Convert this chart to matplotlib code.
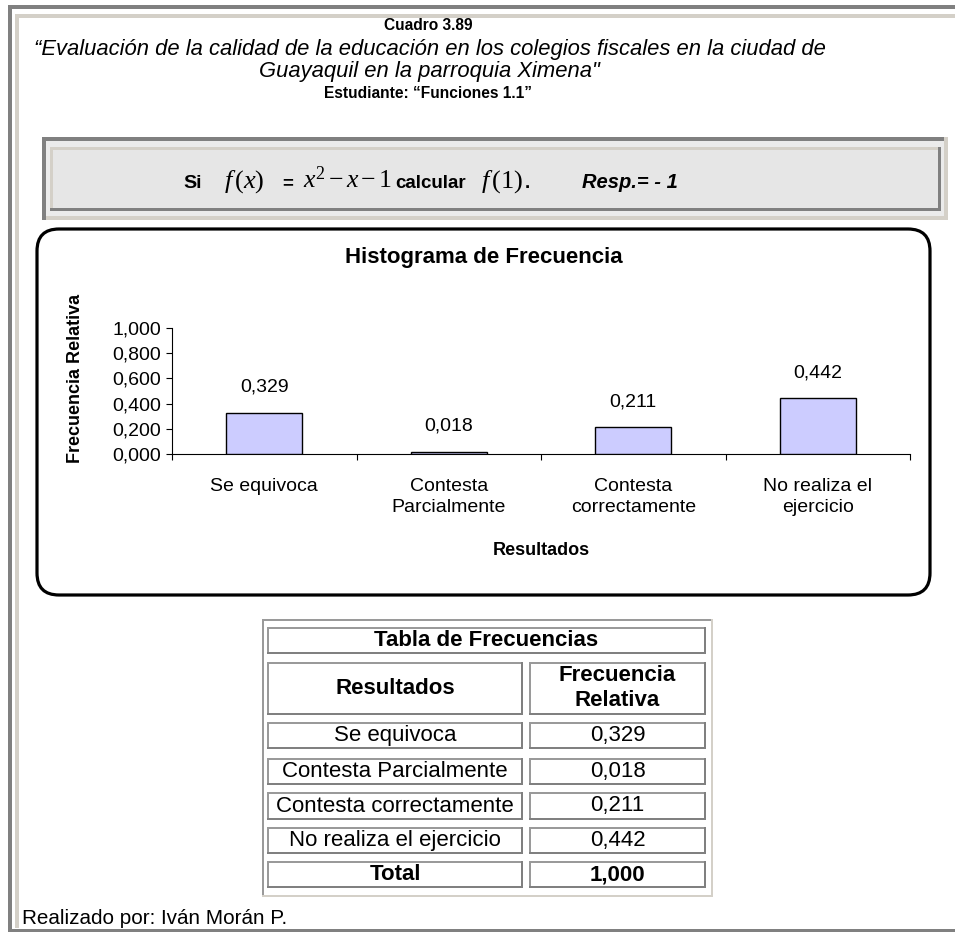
import matplotlib
matplotlib.use("Agg")
import matplotlib.pyplot as plt
from matplotlib import font_manager
from matplotlib.patches import Rectangle, FancyBboxPatch

# ---------------- data ----------------
categories = ["Se equivoca", "Contesta\nParcialmente", "Contesta\ncorrectamente", "No realiza el\nejercicio"]
table_labels = ["Se equivoca", "Contesta Parcialmente", "Contesta correctamente", "No realiza el ejercicio"]
values = [0.329, 0.018, 0.211, 0.442]
value_labels = ["0,329", "0,018", "0,211", "0,442"]
yticks = [0.0, 0.2, 0.4, 0.6, 0.8, 1.0]
ytick_labels = ["0,000", "0,200", "0,400", "0,600", "0,800", "1,000"]
total_label = "1,000"

plt.rcParams['font.family'] = ['Liberation Sans', 'DejaVu Sans']
plt.rcParams['mathtext.fontset'] = 'custom'
plt.rcParams['mathtext.rm'] = 'Liberation Serif'
plt.rcParams['mathtext.it'] = 'Liberation Serif:italic'
plt.rcParams['mathtext.bf'] = 'Liberation Serif:bold'

_names = {f.name for f in font_manager.fontManager.ttflist}
if 'Liberation Sans Narrow' in _names:
    HEAD_FAM = ['Liberation Sans Narrow', 'Liberation Sans', 'DejaVu Sans']
    HEAD_FS = 13.2
else:
    HEAD_FAM = ['Liberation Sans', 'DejaVu Sans']
    HEAD_FS = 11.2

W, H = 955, 932
fig = plt.figure(figsize=(W / 100, H / 100), dpi=100)
fig.patch.set_facecolor('white')

bg = fig.add_axes([0, 0, 1, 1])
bg.set_xlim(0, W)
bg.set_ylim(H, 0)
bg.axis('off')

DARK = '#808080'
BEIGE = '#d4d0c8'
LIGHT = '#e6e6e6'


def rect(x0, y0, x1, y1, color, z=1):
    bg.add_patch(Rectangle((x0, y0), x1 - x0, y1 - y0, facecolor=color,
                           edgecolor='none', zorder=z))


# page frame
rect(8, 5, W, 8.5, DARK)
rect(8, 5, 11.5, H, DARK)
rect(15, 14, W, 17.5, BEIGE)
rect(15, 14, 18.5, 928, BEIGE)
rect(8, 928.5, W, H, DARK)

# header
bg.text(428, 26, "Cuadro 3.89", ha='center', va='center', fontsize=HEAD_FS, fontweight='bold',
        family=HEAD_FAM)
bg.text(430, 50, "\u201cEvaluación de la calidad de la educación en los colegios fiscales en la ciudad de",
        ha='center', va='center', fontsize=15.8, style='italic')
bg.text(429, 72, "Guayaquil en la parroquia Ximena\"", ha='center', va='center', fontsize=15.8, style='italic')
bg.text(428, 93, "Estudiante: \u201cFunciones 1.1\u201d", ha='center', va='center', fontsize=HEAD_FS,
        fontweight='bold', family=HEAD_FAM)

# formula box (bevelled)
rect(42, 137, 948, 220, '#ebebeb')
rect(42, 137, 948, 141, DARK, 2)
rect(42, 137, 46, 220, DARK, 2)
rect(944, 137, 948, 220, BEIGE, 2)
rect(46, 216, 948, 220, BEIGE, 2)
rect(50, 147, 941, 211, LIGHT, 2)
rect(50, 147, 941, 150, BEIGE, 3)
rect(50, 147, 53, 211, BEIGE, 3)
rect(938, 147, 941, 211, DARK, 3)
rect(50, 208, 941, 211, DARK, 3)

by = 188
bg.text(183, by, "Si", ha='left', va='baseline', fontsize=14, fontweight='bold', zorder=5)
bg.text(224, by, r"$f\,(x)$", ha='left', va='baseline', fontsize=19, zorder=5)
bg.text(282, by, "=", ha='left', va='baseline', fontsize=13.5, fontweight='bold', zorder=5)
bg.text(303, by, r"$x^{2}\,{-}\,x\,{-}\,1$", ha='left', va='baseline', fontsize=18.5, zorder=5)
bg.text(395, by, "calcular", ha='left', va='baseline', fontsize=13.5, fontweight='bold', zorder=5)
bg.text(481, by, r"$f\,(1)$", ha='left', va='baseline', fontsize=19, zorder=5)
bg.text(525, by, ".", ha='left', va='baseline', fontsize=13.5, fontweight='bold', zorder=5)
bg.text(582, by, "Resp.= - 1", ha='left', va='baseline', fontsize=14.5, fontweight='bold',
        style='italic', zorder=5)

# chart rounded frame
bg.add_patch(FancyBboxPatch((37, 229), 893, 366, boxstyle="round,pad=0,rounding_size=22",
                            linewidth=2.3, edgecolor='black', facecolor='white', zorder=1))
bg.text(484, 258, "Histograma de Frecuencia", ha='center', va='center', fontsize=16, fontweight='bold')

# chart axes
ax_l, ax_r, ax_t, ax_b = 172, 910, 328, 454
ax = fig.add_axes([ax_l / W, 1 - ax_b / H, (ax_r - ax_l) / W, (ax_b - ax_t) / H])
ax.patch.set_alpha(0)
x = [i + 0.5 for i in range(len(values))]
ax.bar(x, values, width=0.41, color='#ccccff', edgecolor='black', linewidth=1.0, zorder=3)
ax.set_xlim(0, len(values))
ax.set_ylim(0, 1.0)
ax.set_yticks(yticks)
ax.set_yticklabels(ytick_labels)
ax.set_xticks(range(len(values) + 1))
ax.set_xticklabels([])
ax.set_xticks(x, minor=True)
ax.set_xticklabels(categories, minor=True, fontsize=14, linespacing=1.35)
ax.tick_params(axis='x', which='major', direction='out', length=4.5, width=0.8)
ax.tick_params(axis='x', which='minor', length=0, pad=17)
ax.tick_params(axis='y', direction='out', length=4.5, width=0.8, labelsize=14, pad=3.5)
for s in ['top', 'right']:
    ax.spines[s].set_visible(False)
for s in ['left', 'bottom']:
    ax.spines[s].set_linewidth(0.8)
for xi, v, lab in zip(x, values, value_labels):
    ax.annotate(lab, (xi, v), xytext=(0, 18.5), textcoords='offset points',
                ha='center', va='center', fontsize=14)
ax.set_xlabel("Resultados", fontsize=13, fontweight='bold')
ax.xaxis.set_label_coords(0.5, (ax_b - 551) / (ax_b - ax_t))
ax.xaxis.label.set_va('center')
ax.set_ylabel("Frecuencia Relativa", fontsize=13, fontweight='bold')
ax.yaxis.set_label_coords((75 - ax_l) / (ax_r - ax_l), (ax_b - 378) / (ax_b - ax_t))
ax.yaxis.label.set_va('center')

# table
TD = '#9a9a9a'
TL = '#d4d0c8'


def cell_box(x0, y0, x1, y1):
    rect(x0, y0, x1, y0 + 2, TD, 2)
    rect(x0, y0, x0 + 2, y1, TD, 2)
    rect(x0, y1 - 2.5, x1, y1, '#808080', 2)
    rect(x1 - 2.5, y0, x1, y1, '#808080', 2)


# outer table border
rect(262, 619, 713, 621, TD, 2)
rect(262, 619, 264, 897, TD, 2)
rect(262, 895, 713, 897, TL, 2)
rect(711, 619, 713, 897, TL, 2)

cx0, cx1, cx2, cx3 = 267, 523, 529, 706
cell_box(cx0, 627, cx3, 654)
bg.text((cx0 + cx3) / 2, 641, "Tabla de Frecuencias", ha='center', va='center', fontsize=16,
        fontweight='bold')
cell_box(cx0, 662, cx1, 715)
cell_box(cx2, 662, cx3, 715)
bg.text((cx0 + cx1) / 2, 689, "Resultados", ha='center', va='center', fontsize=16, fontweight='bold')
bg.text((cx2 + cx3) / 2, 688, "Frecuencia\nRelativa", ha='center', va='center', fontsize=16,
        fontweight='bold', linespacing=1.2)

row_y = [(722, 749), (758, 785), (792, 820), (827, 854)]
for (y0, y1), lab, vl in zip(row_y, table_labels, value_labels):
    cell_box(cx0, y0, cx1, y1)
    cell_box(cx2, y0, cx3, y1)
    bg.text((cx0 + cx1) / 2, (y0 + y1) / 2, lab, ha='center', va='center', fontsize=16)
    bg.text((cx2 + cx3) / 2, (y0 + y1) / 2, vl, ha='center', va='center', fontsize=16)

cell_box(cx0, 861, cx1, 888)
cell_box(cx2, 861, cx3, 888)
bg.text((cx0 + cx1) / 2, 875, "Total", ha='center', va='center', fontsize=16, fontweight='bold')
bg.text((cx2 + cx3) / 2, 875, total_label, ha='center', va='center', fontsize=16, fontweight='bold')

# footer
bg.text(22, 919, "Realizado por: Iván Morán P.", ha='left', va='center', fontsize=14.9)

fig.savefig("out.png", dpi=100, facecolor='white')
